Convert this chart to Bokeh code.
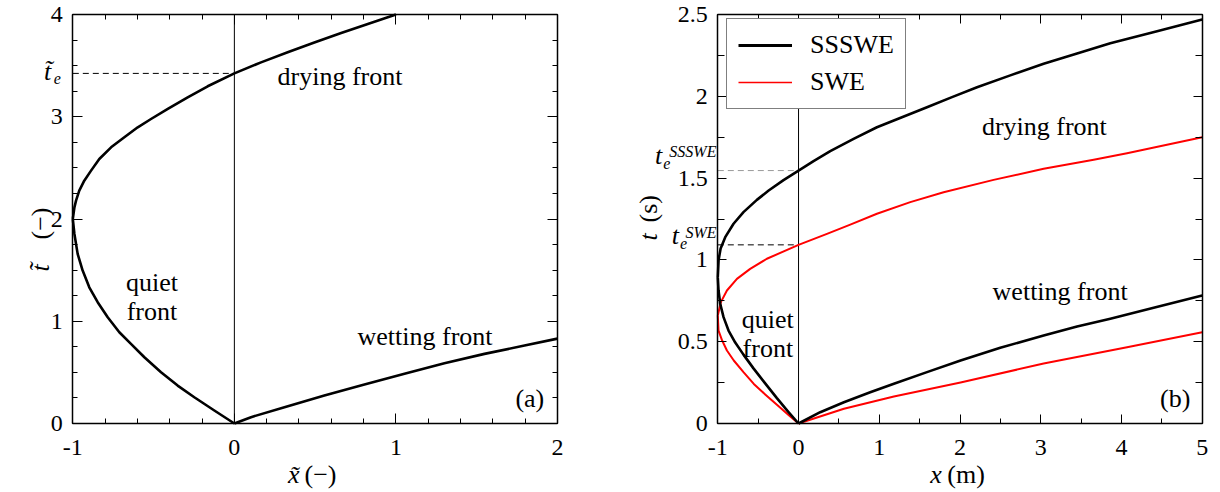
import math
from bokeh.plotting import figure
from bokeh.models import Range1d, FixedTicker, LinearAxis, Label, Legend, LegendItem
from bokeh.layouts import row
from bokeh.embed import file_html
from bokeh.resources import INLINE

FONT = "Liberation Serif"
RED = "#ff0000"
NAN = float("nan")

# ---------------- data: panel (a), dimensionless ----------------
a_quiet_x = [0.0, -0.124, -0.248, -0.351, -0.454, -0.557, -0.640, -0.712, -0.784, -0.846,
             -0.898, -0.939, -0.970, -0.990, -1.0]
a_quiet_t = [0.0, 0.127, 0.257, 0.371, 0.501, 0.648, 0.779, 0.892, 1.039, 1.186,
             1.332, 1.496, 1.659, 1.854, 2.0]
a_dry_x = [-1.0, -0.990, -0.980, -0.960, -0.929, -0.887, -0.836, -0.763, -0.681, -0.598,
           -0.516, -0.412, -0.289, -0.165, 0.0, 0.165, 0.330, 0.495, 0.661, 0.826, 1.0]
a_dry_t = [2.0, 2.114, 2.180, 2.278, 2.375, 2.473, 2.587, 2.701, 2.799, 2.897,
           2.978, 3.076, 3.190, 3.298, 3.424, 3.532, 3.630, 3.727, 3.819, 3.907, 4.0]
a_wet_x = [0.0, 0.103, 0.310, 0.557, 0.805, 1.053, 1.300, 1.548, 1.796, 2.0]
a_wet_t = [0.0, 0.062, 0.160, 0.274, 0.381, 0.486, 0.590, 0.681, 0.762, 0.830]
a_te = 3.424
a_xticks = [-1, 0, 1, 2]
a_xlabels = ["-1", "0", "1", "2"]
a_yticks = [0, 1, 2, 3, 4]
a_ylabels = ["0", "1", "2", "3", "4"]

# ---------------- data: panel (b), dimensional ----------------
sss_quiet_x = [0.0, -0.124, -0.268, -0.413, -0.558, -0.682, -0.784, -0.867, -0.929, -0.970, -0.991, -1.0]
sss_quiet_t = [0.0, 0.070, 0.155, 0.245, 0.337, 0.421, 0.495, 0.568, 0.650, 0.732, 0.813, 0.894]
sss_dry_x = [-1.0, -0.99, -0.965, -0.908, -0.805, -0.682, -0.516, -0.37, -0.186, 0.0, 0.186, 0.393,
             0.682, 0.971, 1.281, 1.591, 1.901, 2.211, 2.623, 3.036, 3.450, 3.862, 4.441, 5.0]
sss_dry_t = [0.894, 1.0, 1.07, 1.139, 1.221, 1.292, 1.367, 1.424, 1.488, 1.546, 1.604, 1.665,
             1.740, 1.811, 1.872, 1.933, 1.995, 2.055, 2.128, 2.199, 2.262, 2.324, 2.398, 2.469]
sss_wet_x = [0.0, 0.269, 0.562, 0.888, 1.181, 1.591, 2.007, 2.499, 3.036, 3.450, 3.862, 4.399, 5.0]
sss_wet_t = [0.0, 0.069, 0.130, 0.191, 0.243, 0.314, 0.385, 0.463, 0.538, 0.593, 0.640, 0.707, 0.782]

swe_quiet_x = [0.0, -0.124, -0.264, -0.413, -0.554, -0.682, -0.802, -0.887, -0.946, -0.991, -1.0]
swe_quiet_t = [0.0, 0.052, 0.113, 0.178, 0.242, 0.314, 0.385, 0.446, 0.507, 0.568, 0.660]
swe_dry_x = [-1.0, -0.962, -0.887, -0.763, -0.599, -0.392, 0.0, 0.352, 0.641, 0.971, 1.384, 1.797,
             2.416, 3.036, 3.656, 4.069, 5.0]
swe_dry_t = [0.660, 0.742, 0.813, 0.884, 0.945, 1.007, 1.092, 1.159, 1.216, 1.282, 1.353, 1.414,
             1.489, 1.557, 1.612, 1.652, 1.750]
swe_wet_x = [0.0, 0.562, 1.181, 2.007, 3.036, 4.069, 5.0]
swe_wet_t = [0.0, 0.090, 0.165, 0.250, 0.367, 0.466, 0.558]

b_te_sss = 1.546
b_te_swe = 1.092
b_xticks = [-1, 0, 1, 2, 3, 4, 5]
b_xlabels = ["-1", "0", "1", "2", "3", "4", "5"]
b_yticks = [0, 0.5, 1, 1.5, 2, 2.5]
b_ylabels = ["0", "0.5", "1", "1.5", "2", "2.5"]
legend_labels = ["SSSWE", "SWE"]

interface_x = 0.0


def frange(a, b, step):
    out = []
    v = a
    while v <= b + 1e-9:
        out.append(round(v, 6))
        v += step
    return out


def style_axis(ax, ticks, labels, minors, major_len, minor_len, standoff, loc, bounds, show_labels=True):
    ax.ticker = FixedTicker(ticks=ticks, minor_ticks=minors)
    ax.fixed_location = loc
    ax.bounds = bounds
    ax.major_tick_in = major_len
    ax.major_tick_out = 0
    ax.minor_tick_in = minor_len
    ax.minor_tick_out = 0
    ax.major_tick_line_color = "black"
    ax.minor_tick_line_color = "black"
    ax.major_tick_line_width = 1
    ax.minor_tick_line_width = 1
    ax.axis_line_color = "black"
    ax.axis_line_width = 1.5
    ax.major_label_text_font = FONT
    ax.major_label_text_color = "black"
    if show_labels:
        ax.major_label_text_font_size = "24px"
        ax.major_label_overrides = {t: l for t, l in zip(ticks, labels)}
        ax.major_label_standoff = standoff
    else:
        ax.major_label_text_font_size = "0px"
        ax.major_label_overrides = {t: "" for t in ticks}
        ax.major_label_standoff = 0


def make_fig(W, H, xbox, ybox, px_left, px_right, px_top, px_bottom):
    # frame covers the whole canvas; the data box is placed at the given canvas pixels
    x0, x1 = xbox
    y0, y1 = ybox
    sx = (px_right - px_left) / (x1 - x0)
    sy = (px_bottom - px_top) / (y1 - y0)
    xr = Range1d(x0 - px_left / sx, x1 + (W - px_right) / sx)
    yr = Range1d(y0 - (H - px_bottom) / sy, y1 + px_top / sy)
    p = figure(width=W, height=H, x_range=xr, y_range=yr,
               output_backend="svg", toolbar_location=None,
               min_border=0, min_border_left=0, min_border_right=0,
               min_border_top=0, min_border_bottom=0)
    p.xgrid.visible = False
    p.ygrid.visible = False
    p.outline_line_color = None
    p.background_fill_color = "white"
    p.border_fill_color = "white"
    return p


def add_axes(p, xt, xl, xm, yt, yl, ym, xmaj, xmin, ymaj, ymin):
    xb = (xt[0], xt[-1])
    yb = (yt[0], yt[-1])
    style_axis(p.xaxis[0], xt, xl, xm, xmaj, xmin, 16, yt[0], xb)
    style_axis(p.yaxis[0], yt, yl, ym, ymaj, ymin, 10, xt[0], yb)
    top = LinearAxis()
    style_axis(top, xt, xl, xm, xmaj, xmin, 0, yt[-1], xb, show_labels=False)
    p.add_layout(top, "above")
    right = LinearAxis()
    style_axis(right, yt, yl, ym, ymaj, ymin, 0, xt[-1], yb, show_labels=False)
    p.add_layout(right, "right")


def lab(p, x, y, text, size="26px", style="normal", align="left", baseline="alphabetic", angle=0.0):
    p.add_layout(Label(x=x, y=y, text=text, text_font=FONT, text_font_size=size,
                       text_font_style=style, text_align=align, text_baseline=baseline,
                       text_color="black", angle=angle))


H = 490

# ================= panel (a) =================
p1 = make_fig(620, H, (a_xticks[0], a_xticks[-1]), (a_yticks[0], a_yticks[-1]), 72.3, 557.0, 14.0, 423.0)
add_axes(p1, a_xticks, a_xlabels, frange(-1, 2, 0.2), a_yticks, a_ylabels, frange(0, 4, 0.25), 10, 5, 10, 5)

p1.line([interface_x, interface_x], [a_yticks[0], a_yticks[-1]], line_color="black", line_width=1)
p1.line([a_xticks[0], interface_x], [a_te, a_te], line_color="black", line_width=1, line_dash="6 4")
for xs, ts in [(a_quiet_x, a_quiet_t), (a_dry_x, a_dry_t), (a_wet_x, a_wet_t)]:
    p1.line(xs, ts, line_color="black", line_width=2.6, line_join="round")

lab(p1, 0.654, 3.389, "drying front", align="center")
lab(p1, -0.51, 1.379, "quiet", align="center")
lab(p1, -0.51, 1.095, "front", align="center")
lab(p1, 1.18, 0.854, "wetting front", align="center")
lab(p1, 1.918, 0.245, "(a)", align="right")
# t_e label at the dashed line
lab(p1, -1.178, 3.44, "t\u0303", style="italic")
lab(p1, -1.118, 3.375, "e", size="16px", style="italic")
# axis titles
lab(p1, 0.332, -0.499, "x\u0303", style="italic")
lab(p1, 0.434, -0.499, "(\u2212)")
lab(p1, -1.200, 1.486, "t\u0303", style="italic", baseline="middle", angle=math.pi / 2)
lab(p1, -1.200, 1.80, "(\u2212)", baseline="middle", angle=math.pi / 2)

# ================= panel (b) =================
p2 = make_fig(598, H, (b_xticks[0], b_xticks[-1]), (b_yticks[0], b_yticks[-1]), 97.3, 581.7, 14.0, 423.0)
add_axes(p2, b_xticks, b_xlabels, frange(-1, 5, 0.5), b_yticks, b_ylabels, frange(0, 2.5, 0.25), 9, 5, 9, 7)

p2.line([interface_x, interface_x], [b_yticks[0], b_yticks[-1]], line_color="black", line_width=1)
p2.line([b_xticks[0], interface_x], [b_te_sss, b_te_sss], line_color="#999999", line_width=1, line_dash="6 4")
p2.line([b_xticks[0], interface_x], [b_te_swe, b_te_swe], line_color="black", line_width=1, line_dash="6 4")
for xs, ts in [(swe_quiet_x, swe_quiet_t), (swe_dry_x, swe_dry_t), (swe_wet_x, swe_wet_t)]:
    p2.line(xs, ts, line_color=RED, line_width=2, line_join="round")
for xs, ts in [(sss_quiet_x, sss_quiet_t), (sss_dry_x, sss_dry_t), (sss_wet_x, sss_wet_t)]:
    p2.line(xs, ts, line_color="black", line_width=2.6, line_join="round")

leg_sss = p2.line(x=[NAN], y=[NAN], line_color="black", line_width=3)
leg_swe = p2.line(x=[NAN], y=[NAN], line_color=RED, line_width=1.5)
legend = Legend(items=[LegendItem(label=legend_labels[0], renderers=[leg_sss]),
                       LegendItem(label=legend_labels[1], renderers=[leg_swe])],
                location=(106, 381))
legend.label_text_font = FONT
legend.label_text_font_size = "26px"
legend.label_text_color = "black"
legend.glyph_width = 54
legend.glyph_height = 30
legend.label_height = 30
legend.label_standoff = 18
legend.padding = 11
legend.spacing = 7
legend.margin = 0
legend.border_line_color = "black"
legend.border_line_width = 1
legend.background_fill_color = "white"
legend.background_fill_alpha = 1.0
p2.add_layout(legend)

lab(p2, 3.045, 1.814, "drying front", align="center")
lab(p2, 3.24, 0.805, "wetting front", align="center")
lab(p2, -0.38, 0.636, "quiet", align="center")
lab(p2, -0.38, 0.459, "front", align="center")
lab(p2, 4.854, 0.153, "(b)", align="right")
# t_e labels
lab(p2, -1.777, 1.638, "t", style="italic")
lab(p2, -1.676, 1.591, "e", size="16px", style="italic")
lab(p2, -1.60, 1.664, "SSSWE", size="16px", style="italic")
lab(p2, -1.569, 1.149, "t", style="italic")
lab(p2, -1.469, 1.102, "e", size="16px", style="italic")
lab(p2, -1.40, 1.169, "SWE", size="16px", style="italic")
# axis titles
lab(p2, 1.631, -0.3117, "x", style="italic")
lab(p2, 1.842, -0.3117, "(m)")
lab(p2, -1.8526, 1.118, "t", style="italic", baseline="middle", angle=math.pi / 2)
lab(p2, -1.8526, 1.229, "(s)", baseline="middle", angle=math.pi / 2)

layout = row(p1, p2)
open("out.html", "w").write(file_html(layout, INLINE))
